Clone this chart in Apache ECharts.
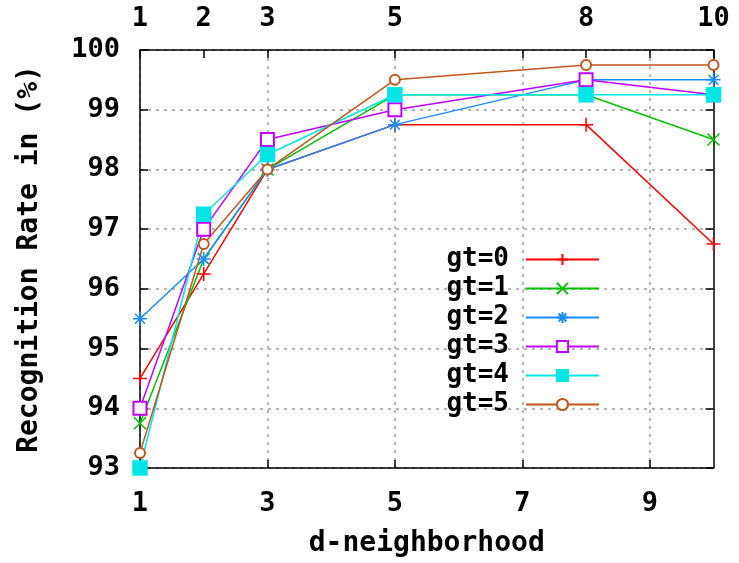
<!DOCTYPE html>
<html>
<head>
<meta charset="utf-8">
<script src="https://cdn.jsdelivr.net/npm/echarts@6/dist/echarts.min.js"></script>
<style>html,body{margin:0;padding:0;background:#fff}#c{width:739px;height:563px}</style>
</head>
<body>
<div id="c"></div>
<script>
const xValues = [1, 2, 3, 5, 8, 10];
const seriesNames = ['gt=0', 'gt=1', 'gt=2', 'gt=3', 'gt=4', 'gt=5'];
const gt0 = [94.5, 96.25, 98.0, 98.75, 98.75, 96.75];
const gt1 = [93.75, 96.5, 98.0, 99.25, 99.25, 98.5];
const gt2 = [95.5, 96.5, 98.0, 98.75, 99.5, 99.5];
const gt3 = [94.0, 97.0, 98.5, 99.0, 99.5, 99.25];
const gt4 = [93.0, 97.25, 98.25, 99.25, 99.25, 99.25];
const gt5 = [93.25, 96.75, 98.0, 99.5, 99.75, 99.75];
const bottomTicks = [1, 3, 5, 7, 9];
const topTicks = [1, 2, 3, 5, 8, 10];

const allValues = [gt0, gt1, gt2, gt3, gt4, gt5];
const colors = ['#ff0000', '#00c000', '#1a8cff', '#c000ff', '#00e5e5', '#c0561a'];
const symbols = [
  'path://M0,5H10M5,0V10',
  'path://M0,0L10,10M10,0L0,10',
  'path://M0,5H10M5,0V10M1.5,1.5L8.5,8.5M8.5,1.5L1.5,8.5',
  'emptyRect',
  'rect',
  'emptyCircle'
];
const sizes = [14, 12, 14, 13, 14, 10];
const font = 'DejaVu Sans Mono';

const series = allValues.map((vals, i) => ({
  name: seriesNames[i],
  type: 'line',
  data: vals.map((v, k) => [xValues[k], v]),
  xAxisIndex: 0,
  yAxisIndex: 0,
  clip: false,
  symbol: symbols[i],
  symbolSize: sizes[i],
  showAllSymbol: true,
  lineStyle: { color: colors[i], width: 1.5 },
  itemStyle: {
    color: colors[i],
    borderColor: colors[i],
    borderWidth: (i === 3 || i === 5) ? 2 : 1.5
  },
  emphasis: { disabled: true },
  animation: false
}));

const chart = echarts.init(document.getElementById('c'));
chart.setOption({
  animation: false,
  backgroundColor: '#fff',
  grid: { left: 140, right: 25.5, top: 50, bottom: 93 },
  legend: {
    orient: 'vertical',
    align: 'right',
    right: 134,
    top: 240,
    itemWidth: 73,
    itemHeight: 14,
    itemGap: 0,
    selectedMode: false,
    data: seriesNames,
    textStyle: {
      fontFamily: font, fontWeight: 'bold', fontSize: 26, color: '#000',
      lineHeight: 29, padding: [0, 12, 0, 0]
    }
  },
  xAxis: [
    {
      type: 'value', min: 1, max: 10, position: 'bottom',
      name: 'd-neighborhood', nameLocation: 'middle', nameGap: 62,
      nameTextStyle: { fontFamily: font, fontWeight: 'bold', fontSize: 28, color: '#000' },
      axisLine: { show: true, lineStyle: { color: '#000', width: 1.5 } },
      axisTick: { show: true, inside: true, length: 8, customValues: bottomTicks, lineStyle: { color: '#000', width: 1.5 } },
      axisLabel: { customValues: bottomTicks, margin: 22, fontFamily: font, fontWeight: 'bold', fontSize: 27, color: '#000' },
      splitLine: { show: true, lineStyle: { color: '#a0a0a0', type: [3, 5], width: 1.5 } }
    },
    {
      type: 'value', min: 1, max: 10, position: 'top',
      axisLine: { show: true, lineStyle: { color: '#000', width: 1.5 } },
      axisTick: { show: true, inside: true, length: 8, customValues: [1, 2, 3, 5, 7, 8, 9, 10], lineStyle: { color: '#000', width: 1.5 } },
      axisLabel: { customValues: topTicks, margin: 18, fontFamily: font, fontWeight: 'bold', fontSize: 27, color: '#000' },
      splitLine: { show: false }
    }
  ],
  yAxis: [
    {
      type: 'value', min: 93, max: 100, interval: 1, position: 'left',
      name: 'Recognition Rate in (%)', nameLocation: 'middle', nameGap: 96,
      nameTextStyle: { fontFamily: font, fontWeight: 'bold', fontSize: 28, color: '#000' },
      axisLine: { show: true, lineStyle: { color: '#000', width: 1.5 } },
      axisTick: { show: true, inside: true, length: 8, lineStyle: { color: '#000', width: 1.5 } },
      axisLabel: { margin: 20, fontFamily: font, fontWeight: 'bold', fontSize: 27, color: '#000' },
      splitLine: { show: true, lineStyle: { color: '#a0a0a0', type: [3, 5], width: 1.5 } }
    },
    {
      type: 'value', min: 93, max: 100, interval: 1, position: 'right',
      axisLine: { show: true, lineStyle: { color: '#000', width: 1.5 } },
      axisTick: { show: true, inside: true, length: 8, lineStyle: { color: '#000', width: 1.5 } },
      axisLabel: { show: false },
      splitLine: { show: false }
    }
  ],
  series: series
});
</script>
</body>
</html>
